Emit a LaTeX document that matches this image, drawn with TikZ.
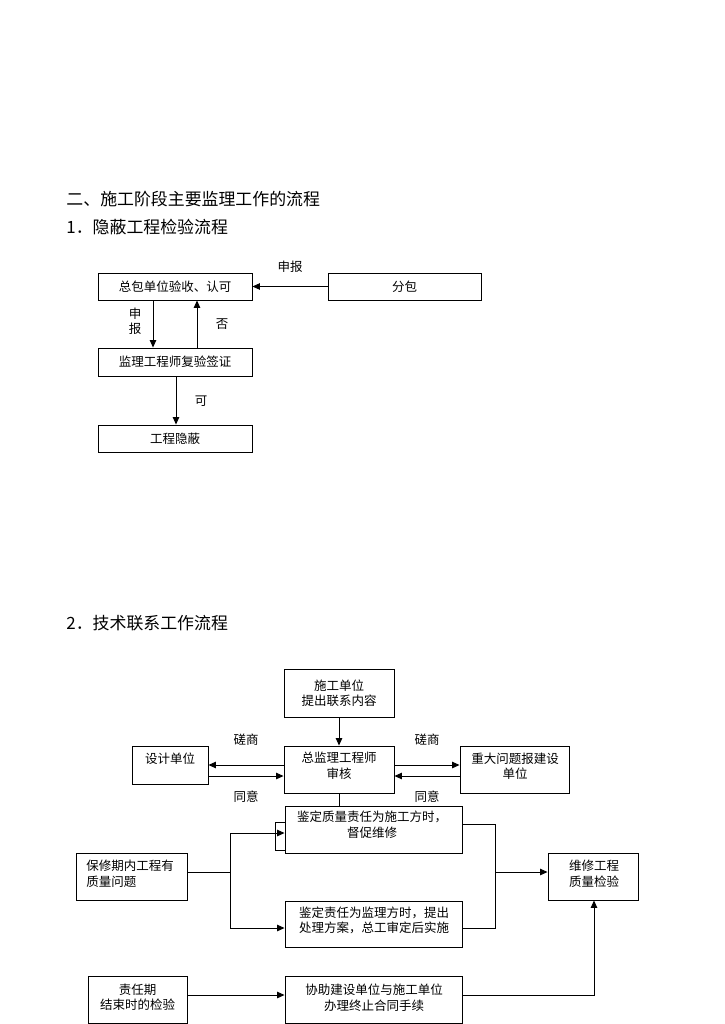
\documentclass[tikz,border=0pt]{standalone}
\usepackage{fontspec}
\setmainfont{Noto Sans CJK SC}
\usetikzlibrary{arrows.meta}
\begin{document}
\begin{tikzpicture}[x=1pt,y=-1pt,
  line width=0.9pt,
  arr/.style={-{Triangle[length=7.5pt,width=6.5pt]}},
  box/.style={draw,inner sep=0pt,font=\fontsize{12.5}{15.5}\selectfont,align=center},
  txt/.style={inner sep=0pt,font=\fontsize{12.5}{15.5}\selectfont,align=center},
  head/.style={inner sep=0pt,anchor=west,font=\fontsize{16.9}{20}\selectfont}]
\useasboundingbox (0,0) rectangle (724,1024);
% headings
\node[head] (h1) at (66,199) {二、施工阶段主要监理工作的流程};
\node[head] (h2) at (66,227) {1．隐蔽工程检验流程};
\node[head] (h3) at (66,623) {2．技术联系工作流程};
% flow 1
\node[box,minimum width=154pt,minimum height=27pt] (A) at (175,286.5) {总包单位验收、认可};
\node[box,minimum width=153pt,minimum height=27pt] (F) at (404.5,286.5) {分包};
\node[box,minimum width=154pt,minimum height=28pt] (B) at (175,362) {监理工程师复验签证};
\node[box,minimum width=154pt,minimum height=27pt] (C) at (175,438.5) {工程隐蔽};
\draw[arr] (F.west) -- (A.east);
\node[txt] (l1) at (290,267) {申报};
\draw[arr] ([xshift=-22pt]A.south) -- ([xshift=-22pt]B.north);
\node[txt] (l2) at (135,321.5) {申\\报};
\draw[arr] ([xshift=22pt]B.north) -- ([xshift=22pt]A.south);
\node[txt] (l3) at (222,324) {否};
\draw[arr] ([xshift=1pt]B.south) -- ([xshift=1pt]C.north);
\node[txt] (l4) at (201,401) {可};
% flow 2
\node[box,minimum width=110pt,minimum height=48pt] (sg) at (339,693) {施工单位\\提出联系内容};
\node[box,minimum width=110pt,minimum height=47pt] (zj) at (339,769.5) {};
\node[txt] (zjt) at (339,766) {总监理工程师\\审核};
\node[box,minimum width=76pt,minimum height=38pt] (sj) at (170,765) {};
\node[txt] (sjt) at (170,759) {设计单位};
\node[box,minimum width=109pt,minimum height=47pt] (zd) at (514.5,769.5) {};
\node[txt] (zdt) at (515,766) {重大问题报建设\\单位};
\draw[arr] (sg.south) -- (zj.north);
\coordinate (ya) at (0,765);
\coordinate (yb) at (0,776);
\draw[arr] (zj.west |- ya) -- (sj.east |- ya);
\draw[arr] (sj.east |- yb) -- (zj.west |- yb);
\draw[arr] (zj.east |- ya) -- (zd.west |- ya);
\draw[arr] (zd.west |- yb) -- (zj.east |- yb);
\node[txt] (c1) at (246,740) {磋商};
\node[txt] (c2) at (427,740) {磋商};
\node[txt] (t1) at (246,797) {同意};
\node[txt] (t2) at (427,797) {同意};
% lower part
\node[box,minimum width=177pt,minimum height=47pt] (jd1) at (373.5,829.5) {};
\node[txt] (jd1t) at (372,824.5) {鉴定质量责任为施工方时，\\督促维修};
\node[box,minimum width=111pt,minimum height=47pt] (bx) at (131.5,876.5) {};
\node[txt,align=left,anchor=west] (bxt) at (86,873.5) {保修期内工程有\\质量问题};
\node[box,minimum width=177pt,minimum height=46pt] (jd2) at (373.5,924) {};
\node[txt,align=left] (jd2t) at (374,920.5) {鉴定责任为监理方时，提出\\处理方案，总工审定后实施};
\node[box,minimum width=90pt,minimum height=47pt] (wx) at (593,876.5) {};
\node[txt] (wxt) at (594,873.5) {维修工程\\质量检验};
\node[box,minimum width=99pt,minimum height=47pt] (zr) at (137.5,999.5) {};
\node[txt] (zrt) at (137.5,997) {责任期\\结束时的检验};
\node[box,minimum width=177pt,minimum height=47pt] (xz) at (373.5,999.5) {};
\node[txt] (xzt) at (374,997.5) {协助建设单位与施工单位\\办理终止合同手续};
\draw (zj.south) -- (zj.south |- jd1.north);
\coordinate (sp) at (230,872);
\coordinate (ja) at (230,833);
\coordinate (jb) at (230,928);
\draw (bx.east |- sp) -- (sp);
\draw (ja) -- (jb);
\draw[arr] (ja) -- (jd1.west |- ja);
\draw[arr] (jb) -- (jd2.west |- jb);
\coordinate (bka) at (275,822);
\coordinate (bkb) at (275,850);
\draw (jd1.west |- bka) -- (bka) -- (bkb) -- (jd1.west |- bkb);
\coordinate (ra) at (495,824);
\coordinate (rb) at (495,928);
\coordinate (rm) at (495,872);
\draw (jd1.east |- ra) -- (ra) -- (rb) -- (jd2.east |- rb);
\draw[arr] (rm) -- (wx.west |- rm);
\coordinate (bl) at (0,995);
\coordinate (rc) at (594,995);
\draw[arr] (zr.east |- bl) -- (xz.west |- bl);
\draw[arr] (xz.east |- rc) -- (rc) -- (rc |- wx.south);
\end{tikzpicture}
\end{document}
